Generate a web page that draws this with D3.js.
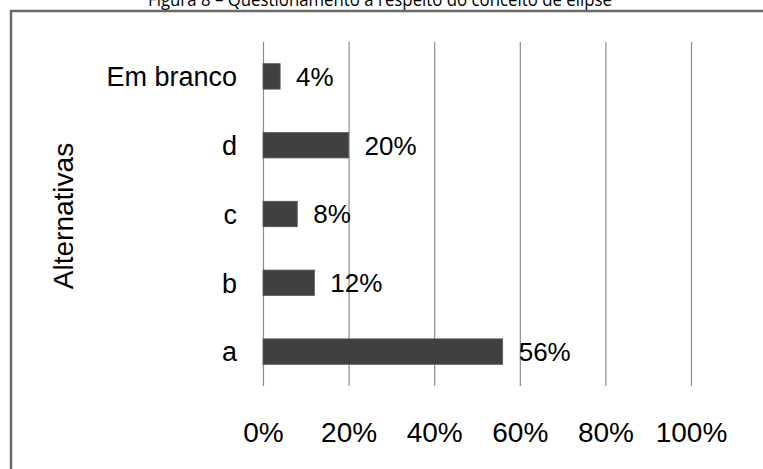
<!DOCTYPE html>
<html>
<head>
<meta charset="utf-8">
<script src="https://cdn.jsdelivr.net/npm/d3@7"></script>
<style>
  html, body { margin: 0; padding: 0; background: #fff; }
  svg { display: block; }
  text { font-family: "Liberation Sans", Arial, sans-serif; fill: #000; }
</style>
</head>
<body>
<svg id="chart" width="763" height="469"></svg>
<script>
// Answers to the question about the ellipse concept
const categories = ["Em branco", "d", "c", "b", "a"];
const values = [4, 20, 8, 12, 56];
const tickValues = [0, 20, 40, 60, 80, 100];
const titleText = "Figura 8 – Questionamento a respeito do conceito de elipse";
const axisTitle = "Alternativas";

const svg = d3.select("#chart");

// Title sits above the frame, partly outside the page
svg.append("text")
  .attr("x", 380)
  .attr("y", 6)
  .attr("text-anchor", "middle")
  .attr("textLength", 464)
  .attr("lengthAdjust", "spacingAndGlyphs")
  .style("font-family", "'Open Sans', 'Noto Sans', sans-serif")
  .style("font-size", "18px")
  .text(titleText);

// Chart frame
svg.append("rect")
  .attr("x", 11).attr("y", 11)
  .attr("width", 800).attr("height", 500)
  .attr("fill", "none")
  .attr("stroke", "#6a6a6a")
  .attr("stroke-width", 2.5);

const x = d3.scaleLinear().domain([0, 100]).range([263, 691]);
const y = d3.scaleBand().domain(categories).range([42, 386]).paddingInner(0.63).paddingOuter(0.315);

// Vertical gridlines
const gridG = svg.append("g")
  .attr("transform", "translate(0,386)")
  .call(d3.axisBottom(x).tickValues(tickValues).tickSize(-344).tickFormat(() => ""));
gridG.select(".domain").remove();
gridG.selectAll(".tick line").attr("stroke", "#8a8a8a").attr("stroke-width", 1.2);

// Tick labels
const tickG = svg.append("g")
  .attr("transform", "translate(0,386)")
  .call(d3.axisBottom(x).tickValues(tickValues).tickSize(0).tickPadding(0).tickFormat(d => d + "%"));
tickG.select(".domain").remove();
tickG.selectAll("text")
  .attr("y", 56)
  .attr("dy", 0)
  .style("font-family", "'Liberation Sans', Arial, sans-serif")
  .style("font-size", "28px")
  .attr("fill", "#000");

// Category labels
const catG = svg.append("g")
  .attr("transform", "translate(237,0)")
  .call(d3.axisLeft(y).tickSize(0).tickPadding(0));
catG.select(".domain").remove();
catG.selectAll("text")
  .attr("dy", "0.36em")
  .style("font-family", "'Liberation Sans', Arial, sans-serif")
  .style("font-size", "27px")
  .attr("fill", "#000");

// Bars
svg.append("g").selectAll("rect")
  .data(values)
  .join("rect")
  .attr("x", x(0))
  .attr("y", (d, i) => y(categories[i]))
  .attr("width", d => x(d) - x(0))
  .attr("height", y.bandwidth())
  .attr("fill", "#404040")
  .attr("stroke", "#5a5a5a")
  .attr("stroke-width", 0.8);

// Value labels
svg.append("g").selectAll("text")
  .data(values)
  .join("text")
  .attr("x", d => x(d) + 16)
  .attr("y", (d, i) => y(categories[i]) + y.bandwidth() / 2)
  .attr("dy", "0.36em")
  .style("font-size", "26px")
  .text(d => d + "%");

// Axis title
svg.append("text")
  .attr("transform", "translate(73,216) rotate(-90)")
  .attr("text-anchor", "middle")
  .style("font-size", "28px")
  .text(axisTitle);
</script>
</body>
</html>
